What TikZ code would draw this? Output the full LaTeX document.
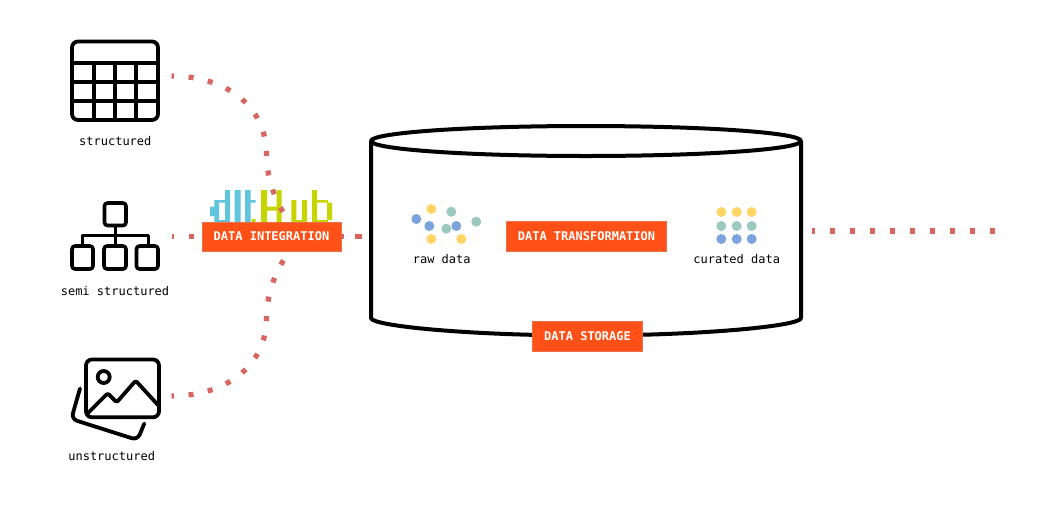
\documentclass[tikz,border=0pt]{standalone}
\usepackage{fontspec}
\setmonofont{DejaVu Sans Mono}
\definecolor{dotred}{HTML}{D9655F}
\definecolor{boxfill}{HTML}{FF5017}
\definecolor{boxedge}{HTML}{E8704A}
\definecolor{dotyellow}{HTML}{FFD666}
\definecolor{dotteal}{HTML}{9CC9BE}
\definecolor{dotblue}{HTML}{7BA3DC}
\definecolor{logoblue}{HTML}{5FC4DC}
\definecolor{logolime}{HTML}{C8D400}
\tikzset{
  icon/.style={draw=black,line width=3.8pt,line join=round,line cap=round},
  thinicon/.style={draw=black,line width=3pt,line join=round,line cap=round},
  flow/.style={draw=dotred,line width=5.2pt,dash pattern=on 5pt off 14.6pt},
  tagbox/.style={fill=boxfill,draw=boxedge,line width=0.8pt,text=white,font=\ttfamily\bfseries\fontsize{12}{14}\selectfont,inner sep=0pt,anchor=center},
  caption/.style={font=\ttfamily\fontsize{12}{14}\selectfont,text=black,inner sep=0pt,anchor=center},
  yellowdot/.style={circle,fill=dotyellow,minimum size=10pt,inner sep=0pt},
  tealdot/.style={circle,fill=dotteal,minimum size=10pt,inner sep=0pt},
  bluedot/.style={circle,fill=dotblue,minimum size=10pt,inner sep=0pt},
  cyl/.style={draw=black,line width=4pt,line join=round}
}
\begin{document}
\begin{tikzpicture}[x=1pt,y=-1pt]
\useasboundingbox (0,0) rectangle (1038,512);
% coordinates
\coordinate (s1) at (171.5,76);
\coordinate (s2) at (171.5,236.5);
\coordinate (s3) at (171.5,396);
\coordinate (j) at (300,236.5);
\coordinate (c1) at (266.5,154);
\coordinate (c3) at (266.5,318.5);
\coordinate (cylin) at (361.8,236.5);
\coordinate (outa) at (812,231);
\coordinate (outb) at (995,231);
% logo
\fill[logoblue] (225,190) rectangle (230,224) (214.3,200) rectangle (219,224) (210,206.7) rectangle (214.3,216)
  (219,200) rectangle (225,202.5) (219,220) rectangle (225,224)
  (234.5,190) rectangle (240.7,224) (245,190) rectangle (250.7,224) (250.7,200) rectangle (255.7,202.5);
\fill[logolime] (251.5,219) rectangle (255.5,224) (261,190) rectangle (267,224) (276.5,190) rectangle (281.5,224)
  (267,206.7) rectangle (276.5,210.5) (291.3,200) rectangle (296.3,224) (302,200) rectangle (307,224)
  (296.3,220) rectangle (302,224) (312,190) rectangle (317,224) (317,200) rectangle (328,202.5)
  (327,202.5) rectangle (332,220) (317,220) rectangle (328,224);
% table icon
\draw[icon,rounded corners=6pt] (72,41.5) rectangle (158,120);
\draw[icon,line cap=butt] (72,63.3) -- (158,63.3) (72,82.3) -- (158,82.3) (72,101) -- (158,101)
  (94,63.3) -- (94,120) (115,63.3) -- (115,120) (136,63.3) -- (136,120);
% network icon
\draw[thinicon,line width=3.6pt,rounded corners=3pt] (104.5,203) rectangle (126,225.5);
\draw[thinicon,line width=3.6pt,rounded corners=3pt] (72,246) rectangle (93,269);
\draw[thinicon,line width=3.6pt,rounded corners=3pt] (104,246) rectangle (126,269);
\draw[thinicon,line width=3.6pt,rounded corners=3pt] (136.5,246) rectangle (158,269);
\draw[thinicon,line cap=butt] (115,225.5) -- (115,246) (82.5,246) -- (82.5,235.7) -- (148,235.7) -- (148,246);
% picture icon
\draw[icon,rounded corners=6pt] (86,359.5) rectangle (159,417.3);
\draw[icon] (103.7,377) circle (6pt);
\draw[icon,rounded corners=1.5pt] (87,414) -- (107.7,393.3) -- (116.7,402.3) -- (135.7,380.7) -- (158,405);
\draw[icon,rounded corners=6pt] (80,388.5) -- (71.3,419) -- (137.5,440) -- (144.3,423.5);
% connectors
\draw[flow,dash phase=2.5pt] (s1) .. controls (225,76) and (266,105) .. (c1) .. controls (267,190) and (283,215) .. (j);
\draw[flow,dash phase=2.5pt] (s3) .. controls (225,396) and (266,367) .. (c3) .. controls (267,283) and (283,258) .. (j);
\draw[flow,dash phase=2.5pt] (s2) -- (j);
% cylinder
\draw[cyl] (371,141) -- (371,318) .. controls (371,326) and (470,335.5) .. (586,335.5)
  .. controls (702,335.5) and (801,326) .. (801,318) -- (801,141);
\draw[cyl] (586,141) ellipse (215pt and 15pt);
% boxes
\node[tagbox,minimum width=139pt,minimum height=29pt] (integration) at (271.5,236.5) {DATA INTEGRATION};
\draw[flow,dash pattern=on 7.5pt off 10.3pt,dash phase=4.5pt] (integration.east) -- (cylin);
\node[tagbox,minimum width=159.5pt,minimum height=29.5pt] (transformation) at (586.5,236.5) {DATA TRANSFORMATION};
\node[tagbox,minimum width=109.5pt,minimum height=29.5pt] (storage) at (587.5,336.5) {DATA STORAGE};
% output
\draw[flow,dash pattern=on 5pt off 15pt,dash phase=2.5pt] (outa) -- (outb);
% raw dots
\node[yellowdot] (r1) at (431.3,209) {};
\node[tealdot] (r2) at (451.3,211.7) {};
\node[bluedot] (r3) at (416.3,219) {};
\node[tealdot] (r4) at (476.3,221.7) {};
\node[bluedot] (r5) at (429.3,226) {};
\node[bluedot] (r6) at (456.3,226) {};
\node[tealdot] (r7) at (446.3,228.7) {};
\node[yellowdot] (r8) at (431.3,239) {};
\node[yellowdot] (r9) at (461.3,239) {};
% curated dots
\foreach \n/\x in {a/721.3,b/736.7,c/751.7}{
  \node[yellowdot] (y\n) at (\x,212) {};
  \node[tealdot] (t\n) at (\x,226) {};
  \node[bluedot] (u\n) at (\x,239) {};
}
% captions
\node[caption] (lstruct) at (115.3,141) {structured};
\node[caption] (lsemi) at (115,291) {semi structured};
\node[caption] (lunstr) at (111.7,456.5) {unstructured};
\node[caption] (lraw) at (441.7,259) {raw data};
\node[caption] (lcur) at (736.7,259) {curated data};
\end{tikzpicture}
\end{document}
